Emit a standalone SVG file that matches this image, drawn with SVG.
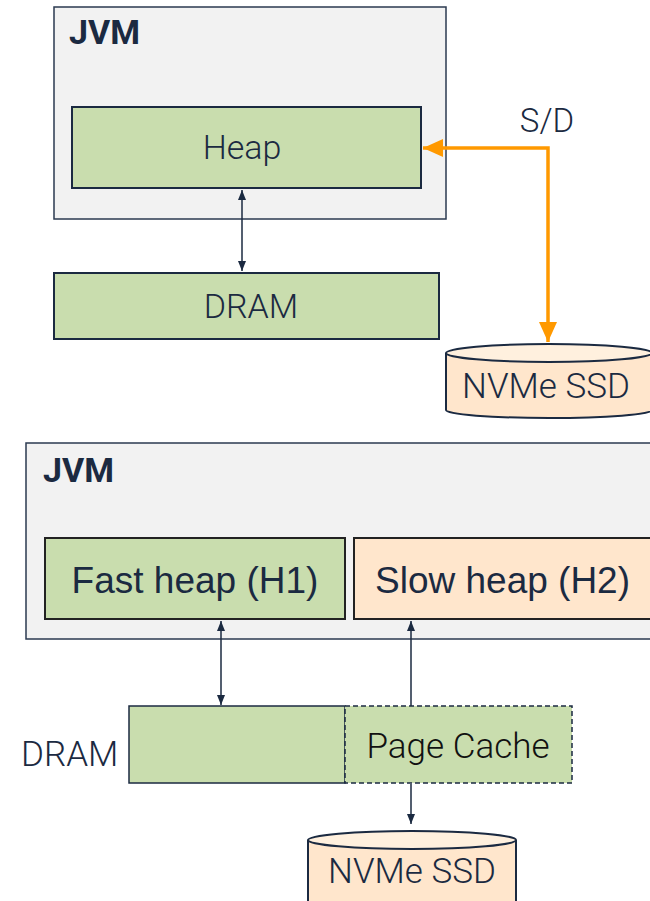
<svg xmlns="http://www.w3.org/2000/svg" width="650" height="901" viewBox="0 0 650 901">
<style>
.jvm{fill:#f2f2f2;stroke:#2b3a50;stroke-width:1.5}
.green{fill:#c9ddae;stroke:#1b2a41;stroke-width:2}
.peach{fill:#ffe6cc;stroke:#1b2a41;stroke-width:2}
.lbl{font-family:Roboto,"Liberation Sans",sans-serif;font-weight:300;fill:#1b2a41;font-size:34px}
.bold{font-family:Roboto,"Liberation Sans",sans-serif;font-weight:700;fill:#1b2a41;font-size:34px}
.arial{font-family:"Liberation Sans",Arial,sans-serif;fill:#1b2a41;font-size:37px}
.conn{fill:none;stroke:#1b2a41;stroke-width:1.5}
.orange{fill:none;stroke:#ff9900;stroke-width:3.5}
</style>
<defs>
<marker id="ah" viewBox="0 0 10 10" refX="10" refY="5" markerWidth="10" markerHeight="10" markerUnits="userSpaceOnUse" orient="auto-start-reverse">
<path d="M0,1 L10,5 L0,9 z" fill="#1b2a41"/>
</marker>
<marker id="oh" viewBox="0 0 10 10" refX="10" refY="5" markerWidth="26" markerHeight="20" markerUnits="userSpaceOnUse" orient="auto-start-reverse">
<path d="M0,0.5 L10,5 L0,9.5 z" fill="#ff9900"/>
</marker>
</defs>

<g id="jvm-top">
<rect class="jvm" x="54" y="7" width="392" height="212"/>
<text class="bold" x="69" y="44">JVM</text>
</g>
<g id="heap">
<rect class="green" x="72" y="107" width="349" height="81"/>
<text class="lbl" x="242" y="159" text-anchor="middle">Heap</text>
</g>
<g id="dram-top">
<rect class="green" x="54" y="273" width="385" height="66"/>
<text class="lbl" x="251" y="318" text-anchor="middle">DRAM</text>
</g>
<g id="ssd-top">
<path class="peach" d="M446,353 L446,410 A103,8 0 0 0 652,410 L652,353"/>
<ellipse cx="549" cy="353" rx="103" ry="9" fill="#fff0de" stroke="#1b2a41" stroke-width="2"/>
<text class="lbl" x="546" y="398" text-anchor="middle" style="font-size:35px">NVMe SSD</text>
</g>

<g id="jvm-bottom">
<rect class="jvm" x="26" y="443" width="640" height="196"/>
<text class="bold" x="43" y="482">JVM</text>
</g>
<g id="fast-heap">
<rect x="45" y="538" width="300" height="81" fill="#c9ddae" stroke="#222" stroke-width="2"/>
<text class="arial" x="195" y="593" text-anchor="middle">Fast heap (H1)</text>
</g>
<g id="slow-heap">
<rect x="354" y="538" width="310" height="81" fill="#ffe6cc" stroke="#222" stroke-width="2"/>
<text class="arial" x="375" y="593">Slow heap (H2)</text>
</g>
<g id="dram-bottom">
<text class="lbl" x="21" y="766" style="font-size:35px">DRAM</text>
<rect x="129" y="706" width="216" height="77" fill="#c9ddae" stroke="#1b2a41" stroke-width="1.5"/>
</g>
<g id="page-cache">
<rect x="345" y="706" width="227" height="77" fill="#c9ddae" stroke="#1b2a41" stroke-width="1.5" stroke-dasharray="5,3"/>
<text class="lbl" x="458" y="758" text-anchor="middle" style="font-size:35px;fill:#111">Page Cache</text>
</g>
<g id="ssd-bottom">
<path class="peach" d="M308,840 L308,905 L516,905 L516,840"/>
<ellipse cx="412" cy="840" rx="104" ry="9" fill="#fff0de" stroke="#1b2a41" stroke-width="2"/>
<text class="lbl" x="412" y="883" text-anchor="middle" style="font-size:35px">NVMe SSD</text>
</g>

<g id="connectors">
<path class="conn" d="M242,190 L242,271" marker-start="url(#ah)" marker-end="url(#ah)"/>
<path class="orange" d="M423,148 L548,148 L548,342" marker-start="url(#oh)" marker-end="url(#oh)"/>
<text class="lbl" x="547" y="132" text-anchor="middle" style="font-size:33px">S/D</text>
<path class="conn" d="M221,621 L221,705" marker-start="url(#ah)" marker-end="url(#ah)"/>
<path class="conn" d="M411,706 L411,621" marker-end="url(#ah)"/>
<path class="conn" d="M411,784 L411,824" marker-end="url(#ah)"/>
</g>
</svg>
